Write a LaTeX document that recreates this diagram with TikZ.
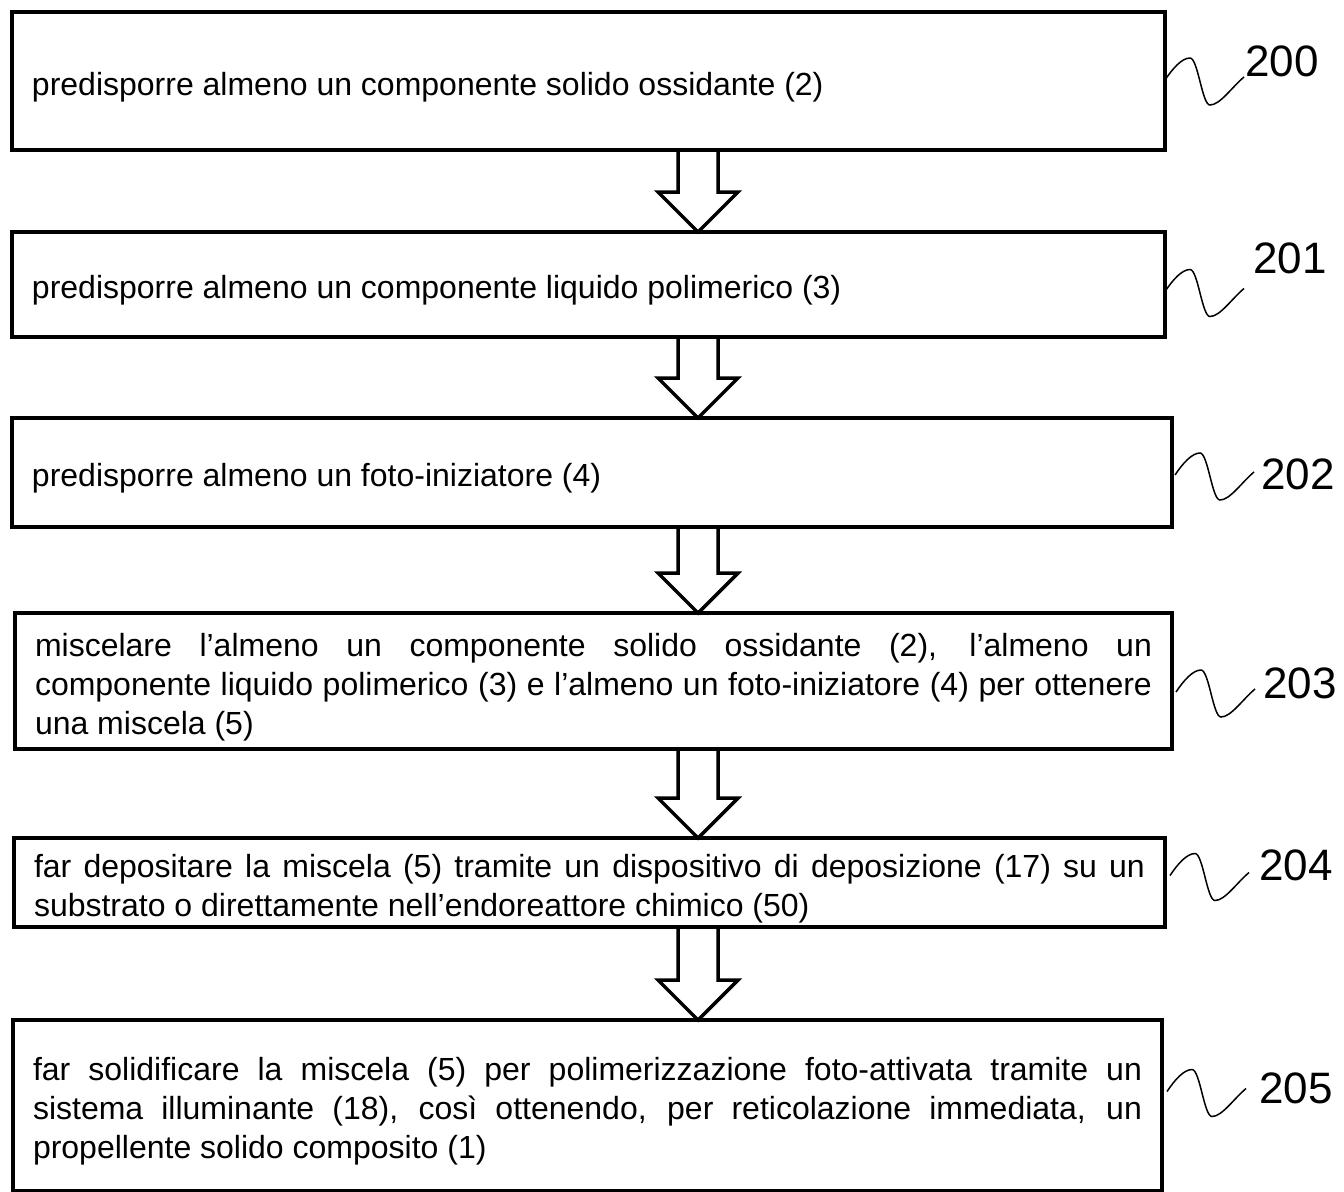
\documentclass[tikz,border=0pt]{standalone}
\usepackage{fontspec}
\setmainfont{Liberation Sans}
\usetikzlibrary{calc}
\hyphenpenalty=10000
\exhyphenpenalty=10000

\begin{document}
\begin{tikzpicture}[x=0.5pt, y=-0.5pt, line join=miter,
        stepbox/.style={draw, line width=2pt, outer sep=0pt, anchor=north west, inner xsep=10pt, inner ysep=0pt, align=justify, font=\fontsize{16pt}{19.5pt}\selectfont, execute at begin node={\rule{0pt}{17.5pt}}},
        reflabel/.style={font=\fontsize{22pt}{26pt}\selectfont, inner sep=0pt},
        arrowline/.style={line width=1.75pt},
        squiggle/.style={line width=0.75pt}]
        \useasboundingbox (0,0) rectangle (1344,1191);
        \node[stepbox, text width=556.5pt, minimum height=69pt] (b0) at (12,12) {predisporre almeno un componente solido ossidante (2)};
        \node[stepbox, text width=556.5pt, minimum height=52.5pt] (b1) at (12,232) {predisporre almeno un componente liquido polimerico (3)};
        \node[stepbox, text width=560pt, minimum height=54.5pt] (b2) at (12,418) {predisporre almeno un foto-iniziatore (4)};
        \node[stepbox, text width=558.5pt, minimum height=68pt] (b3) at (15,613) {miscelare l’almeno un componente solido ossidante (2), l’almeno un\linebreak componente liquido polimerico (3) e l’almeno un foto-iniziatore (4) per ottenere\linebreak una miscela (5)};
        \node[stepbox, text width=555.5pt, minimum height=44.5pt] (b4) at (14,838) {far depositare la miscela (5) tramite un dispositivo di deposizione (17) su un\linebreak substrato o direttamente nell’endoreattore chimico (50)};
        \node[stepbox, text width=554.5pt, minimum height=85.5pt] (b5) at (13,1020) {far solidificare la miscela (5) per polimerizzazione foto-attivata tramite un\linebreak sistema illuminante (18), così ottenendo, per reticolazione immediata, un\linebreak propellente solido composito (1)};
        \node[reflabel] (l0) at (1282,61) {200};
        \node[reflabel] (l1) at (1290,258) {201};
        \node[reflabel] (l2) at (1298,474) {202};
        \node[reflabel] (l3) at (1300,683) {203};
        \node[reflabel] (l4) at (1296,865) {204};
        \node[reflabel] (l5) at (1296,1088) {205};
        % hollow arrows between the steps
        \coordinate (ax) at (698,0);
        \foreach \a/\b in {b0/b1, b1/b2, b2/b3, b3/b4, b4/b5}
            \draw[arrowline] let \p1=(\a.south -| ax), \p2=(\b.north -| ax) in (\x1-10pt,\y1) -- (\x1-10pt,\y2+20pt) -- (\x1-20pt,\y2+20pt) -- (\x1,\y2) -- (\x1+20pt,\y2+20pt) -- (\x1+10pt,\y2+20pt) -- (\x1+10pt,\y1);
        % reference squiggles
        \foreach \b/\dx/\dy in {b0/0/-1, b1/0/7, b2/3/2.5, b3/4/11, b4/5/-7, b5/5/-14}
            \draw[squiggle] ($(\b.east)+(\dx,\dy)$) .. controls +(8,-12) and +(-8,0) .. ++(25,-22) .. controls +(8,0) and +(-8,0) .. ++(20,47) .. controls +(10,0) and +(-12,10) .. ++(34,-28);
    \end{tikzpicture}
\end{document}
